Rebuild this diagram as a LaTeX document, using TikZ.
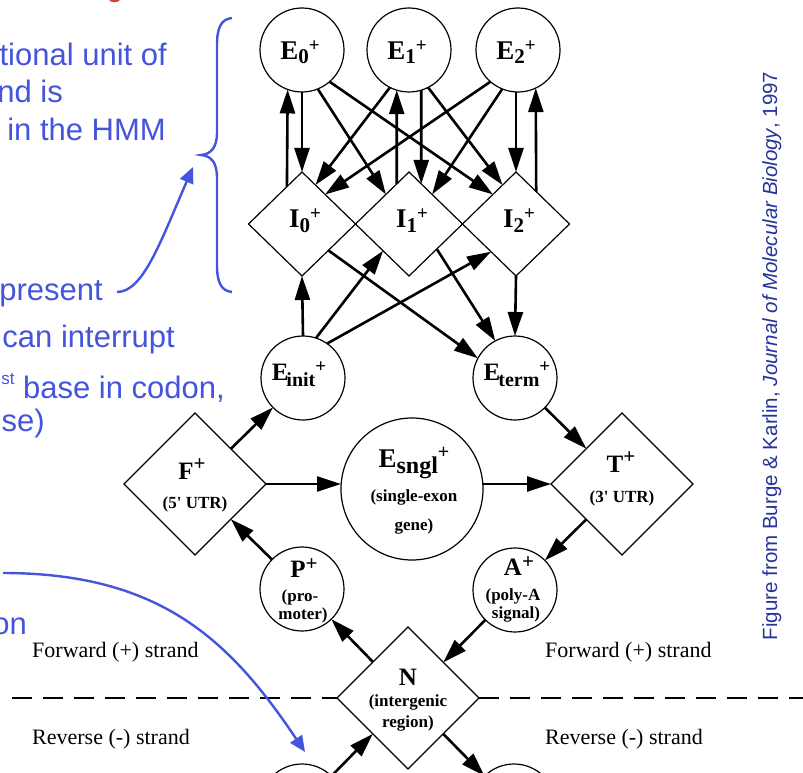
\documentclass[tikz,border=0pt]{standalone}
\usepackage{fontspec}
\setmainfont{Liberation Serif}
\newfontfamily\sansf{Liberation Sans}
\usetikzlibrary{arrows.meta,shapes.geometric}
\definecolor{noteblue}{RGB}{68,84,220}
\definecolor{credblue}{RGB}{38,52,155}
\definecolor{titlered}{RGB}{205,70,55}
\newcommand{\shiftt}[3]{\raisebox{#1}{\fontsize{#2}{#2}\selectfont #3}}
\begin{document}
\begin{tikzpicture}[x=1pt,y=-1pt,
  st/.style={circle,draw,line width=1.2pt,minimum size=84pt,inner sep=0pt,outer sep=0pt},
  bigst/.style={st,minimum size=142pt},
  dia/.style={diamond,draw,line width=1.2pt,inner sep=0pt,outer sep=0pt,minimum width=107pt,minimum height=104pt},
  bigdia/.style={dia,minimum width=142pt,minimum height=142pt},
  arr/.style={line width=2.6pt,-{Triangle[length=24pt,width=15pt]}},
  lbl/.style={inner sep=0pt,anchor=base,font=\bfseries\fontsize{27}{27}\selectfont},
  mid/.style={lbl,font=\bfseries\fontsize{25}{25}\selectfont},
  sml/.style={inner sep=0pt,anchor=base,font=\bfseries\fontsize{17}{17}\selectfont},
  strand/.style={inner sep=0pt,anchor=base west,font=\fontsize{22}{22}\selectfont},
  note/.style={inner sep=0pt,anchor=base east,text=noteblue,font=\sansf\fontsize{31}{31}\selectfont},
  bluearr/.style={draw=noteblue,line width=2.4pt,-{Triangle[length=16pt,width=14pt]}},
  dashline/.style={line width=2pt,dash pattern=on 20pt off 11pt},
]
\useasboundingbox (0,0) rectangle (803,773);
\clip (0,0) rectangle (803,773);

% ---- shapes ----
\node[st] (E0) at (302,50) {};
\node[st] (E1) at (409,50) {};
\node[st] (E2) at (518,50) {};
\node[dia] (I0) at (302,224) {};
\node[dia] (I1) at (409,224) {};
\node[dia] (I2) at (516,224) {};
\node[st] (Ei) at (303,378) {};
\node[st] (Et) at (515,378) {};
\node[bigst] (Es) at (412,489) {};
\node[bigdia] (F) at (195,484) {};
\node[bigdia] (T) at (622,484) {};
\node[st] (P) at (302,589) {};
\node[st] (A) at (515,590) {};
\node[bigdia] (N) at (408,698) {};
\node[st] (Pm) at (302,806) {};
\node[st] (Am) at (514,806) {};

% ---- labels ----
\node[lbl] (E0t) at (300,60) {E\shiftt{-4pt}{21}{0}\shiftt{8pt}{19}{+}};
\node[lbl] (E1t) at (407,60) {E\shiftt{-4pt}{21}{1}\shiftt{8pt}{19}{+}};
\node[lbl] (E2t) at (516,60) {E\shiftt{-4pt}{21}{2}\shiftt{8pt}{19}{+}};
\node[lbl] (I0t) at (305,227) {I\shiftt{-5pt}{21}{0}\shiftt{8pt}{19}{+}};
\node[lbl] (I1t) at (412,227) {I\shiftt{-5pt}{21}{1}\shiftt{8pt}{19}{+}};
\node[lbl] (I2t) at (519,227) {I\shiftt{-5pt}{21}{2}\shiftt{8pt}{19}{+}};
\node[mid] (Eit) at (299,380) {E\kern-2pt\shiftt{-6pt}{20}{init}\shiftt{8pt}{19}{+}};
\node[mid] (Ett) at (517,380) {E\kern-2pt\shiftt{-6pt}{20}{term}\shiftt{8pt}{19}{+}};
\node[lbl] (Est1) at (414,467) {E\shiftt{-6pt}{24}{sngl}\shiftt{9pt}{20}{+}};
\node[sml] (Est2) at (414,501) {(single-exon};
\node[sml] (Est3) at (414,530) {gene)};
\node[mid] (Ft1) at (192,479) {F\shiftt{9pt}{21}{+}};
\node[sml] (Ft2) at (195,508) {(5\textquotesingle{} UTR)};
\node[mid] (Tt1) at (621,472) {T\shiftt{9pt}{21}{+}};
\node[sml] (Tt2) at (622,502) {(3\textquotesingle{} UTR)};
\node[mid] (Pt1) at (304,577) {P\shiftt{7pt}{21}{+}};
\node[sml] (Pt2) at (300,601) {(pro-};
\node[sml] (Pt3) at (303,619) {moter)};
\node[mid] (At1) at (519,575) {A\shiftt{7pt}{21}{+}};
\node[sml] (At2) at (513,600) {(poly-A};
\node[sml] (At3) at (516,618) {signal)};
\node[mid] (Nt1) at (408,685) {N};
\node[sml] (Nt2) at (408,706) {(intergenic};
\node[sml] (Nt3) at (408,727) {region)};

% ---- connectors, top block ----
\draw[arr] (E0.south) -- (I0.north);
\draw[arr] (I0.112) -- (E0.250);
\draw[arr] (I1.107) -- (E1.253);
\draw[arr] (E1.287) -- (I1.73);
\draw[arr] (I2.north |- E2.south) -- (I2.north);
\draw[arr] (I2.58) -- (E2.295);
\draw[arr] (E0.292) -- (I1.128);
\draw[arr] (E0.311) -- (I2.128);
\draw[arr] (E1.243) -- (I0.71);
\draw[arr] (E1.297) -- (I2.109);
\draw[arr] (E2.229) -- (I0.52);
\draw[arr] (E2.248) -- (I1.52);

% ---- connectors, lower block ----
\draw[arr] (Ei.north) -- (I0.south);
\draw[arr] (Ei.72) -- (I1.226);
\draw[arr] (Ei.55) -- (I2.228);
\draw[arr] (I0.315) -- (Et.152);
\draw[arr] (I1.318) -- (Et.118);
\draw[arr] (I2.south) -- (Et.north);
\draw[arr] (F) -- (Ei);
\draw[arr] (F.east) -- (F.east -| Es.west);
\draw[arr] (Es.east |- T.west) -- (T.west);
\draw[arr] (Et) -- (T);
\draw[arr] (T) -- (A);
\draw[arr] (P) -- (F);
\draw[arr] (N) -- (P);
\draw[arr] (A) -- (N);
\draw[arr] (Pm) -- (N);
\draw[arr] (N) -- (Am);

% ---- strand divider ----
\coordinate (dl) at (12,698);
\coordinate (dr) at (803,698);
\draw[dashline] (dl) -- (N.west);
\draw[dashline] (N.east) -- (dr);
\node[strand] (fl) at (32,657) {Forward (+) strand};
\node[strand] (fr) at (545,657) {Forward (+) strand};
\node[strand] (rl) at (32,744) {Reverse (-) strand};
\node[strand] (rr) at (545,744) {Reverse (-) strand};

% ---- blue notes ----
\node[note] (n1) at (167,66) {tional unit of};
\node[note] (n2) at (63,103) {nd is};
\node[note] (n3) at (166,141) {in the HMM};
\node[note] (n4) at (103,300) {present};
\node[note] (n5) at (175,347) {can interrupt};
\node[note] (n6) at (225,398) {\raisebox{14pt}{\fontsize{17}{17}\selectfont st} base in codon,};
\node[note] (n7) at (45,431) {se)};
\node[note] (n8) at (27,634) {on};

\draw[noteblue,line width=2.4pt] (232,18) .. controls (221,19) and (217,28) .. (217,45)
  -- (217,132) .. controls (217,148) and (211,154) .. (201,155)
  .. controls (211,156) and (217,162) .. (217,178)
  -- (217,265) .. controls (217,282) and (221,291) .. (232,292);

\coordinate (b1s) at (117,292);
\coordinate (b1e) at (193,167);
\draw[bluearr] (b1s) .. controls (143,292) and (160,243) .. (b1e);
\coordinate (b2s) at (3,573);
\coordinate (b2e) at (305,752);
\draw[bluearr] (b2s) .. controls (160,573) and (230,640) .. (b2e);

\fill[titlered] (109,0) .. controls (111,3) and (118,3) .. (120,0) -- cycle;

\node[inner sep=0pt,anchor=base,rotate=90,text=credblue,font=\sansf\fontsize{20.5}{20.5}\selectfont] (cred) at (777,356) {Figure from Burge \& Karlin, \textit{Journal of Molecular Biology}, 1997};
\end{tikzpicture}
\end{document}
